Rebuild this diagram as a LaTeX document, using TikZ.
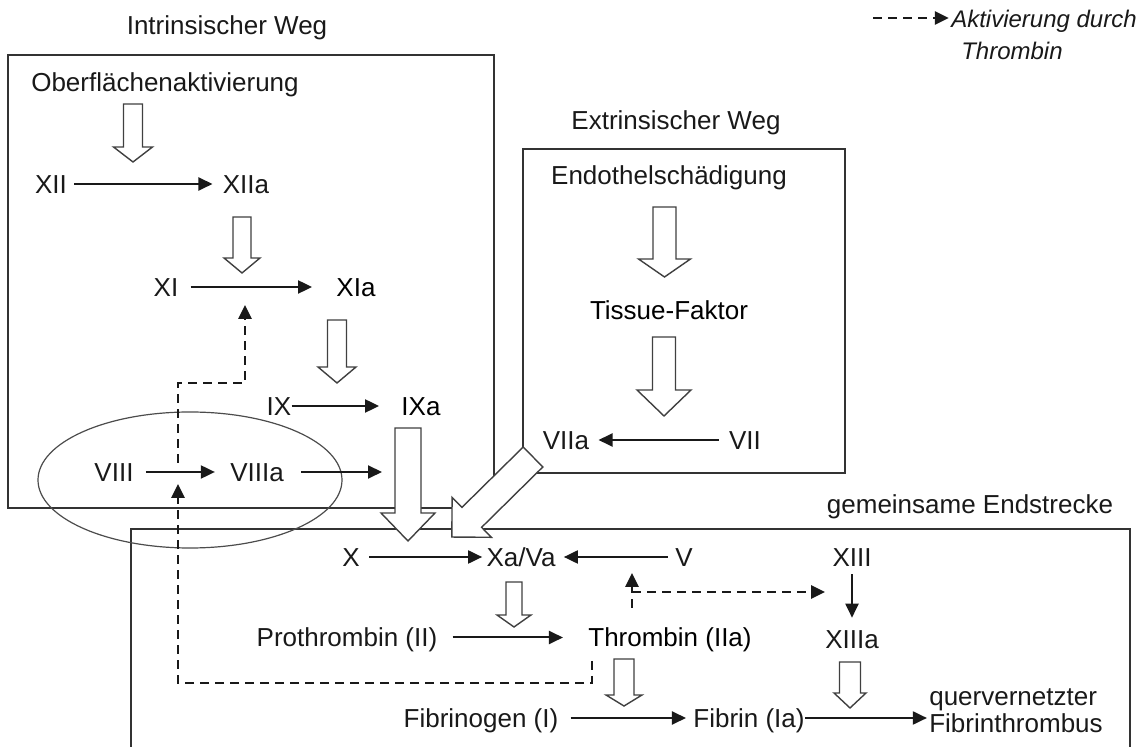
\documentclass[tikz,border=0pt]{standalone}
\usepackage{fontspec}
\setmainfont{Liberation Sans}
\usetikzlibrary{arrows.meta}

\tikzset{
  pics/hollow/.style n args={4}{code={
    \draw[hollowline] (0,-#2/2) -- ({#1-#4},-#2/2) -- ({#1-#4},-#3/2) -- (#1,0)
      -- ({#1-#4},#3/2) -- ({#1-#4},#2/2) -- (0,#2/2) -- cycle;
  }}
}

\begin{document}
\begin{tikzpicture}[
  x=0.5pt, y=-0.5pt,
  font=\fontsize{13}{13.5}\selectfont,
  >={Triangle[length=7pt,width=6.5pt]},
  factor/.style={inner sep=0pt, text height=9.3pt, text depth=0pt, text=black!90},
  keyfactor/.style={factor, text=black},
  conv/.style={->, line width=1pt, draw=black!90},
  act/.style={->, line width=1.3pt, dash pattern=on 4.5pt off 3pt, draw=black!90},
  pathbox/.style={draw=black!80, line width=0.75pt},
  hollowline/.style={draw=black!75, fill=white, line width=0.7pt}
]
\useasboundingbox (0,0) rectangle (1146,747);

% pathway boxes
\draw[pathbox] (8,55) rectangle (494,508);
\draw[pathbox] (523,149) rectangle (845,473);
\draw[pathbox] (131,747) |- (1130,529) -- (1130,747);
\draw[draw=black!70, line width=0.6pt] (190,480) ellipse [x radius=76pt, y radius=34pt];

% hollow conversion arrows
\pic[rotate=-90] at (133,104) {hollow={58}{19}{39}{15}};
\pic[rotate=-90] at (242,217) {hollow={56}{18}{36}{15}};
\pic[rotate=-90] at (337,320) {hollow={63}{19}{38}{16}};
\pic[rotate=-90] at (408,428) {hollow={113}{26}{54}{28}};
\pic[rotate=-90] at (664.5,207) {hollow={70}{23}{52}{18}};
\pic[rotate=-90] at (664,337) {hollow={79}{23}{54}{26}};
\pic[rotate=-90] at (514,582) {hollow={45}{16}{34}{12}};
\pic[rotate=-90] at (624,659) {hollow={47}{20}{36}{11}};
\pic[rotate=-90] at (850,662) {hollow={46}{21}{32}{15}};
\pic[rotate=-135.4] at (533,457) {hollow={114}{28}{56}{28}};

% titles
\node[factor] (intrtitle) at (227,25) {Intrinsischer Weg};
\node[factor] (extrtitle) at (676,120) {Extrinsischer Weg};
\node[factor] (endtitle) at (970,504) {gemeinsame Endstrecke};

% intrinsic pathway
\node[factor] (surface) at (165,82) {Oberflächenaktivierung};
\node[factor] (f12) at (51,184) {XII};
\node[factor] (f12a) at (246,184) {XIIa};
\node[factor] (f11) at (166,287) {XI};
\node[keyfactor] (f11a) at (356,287) {XIa};
\node[factor] (f9) at (279,406) {IX};
\node[keyfactor] (f9a) at (421,406) {IXa};
\node[factor] (f8) at (114,472) {VIII};
\node[factor] (f8a) at (257,472) {VIIIa};
\coordinate (f8target) at (382,472);

% extrinsic pathway
\node[factor] (endo) at (669,175) {Endothelschädigung};
\node[keyfactor] (tissue) at (669,310) {Tissue-Faktor};
\node[factor] (f7a) at (566,440) {VIIa};
\node[factor] (f7) at (745,440) {VII};

% common pathway
\node[factor] (f10) at (351,557) {X};
\node[factor] (f10a) at (521,557) {Xa/Va};
\node[factor] (f5) at (684,557) {V};
\node[factor] (f13) at (852,557) {XIII};
\node[factor] (f2) at (347,637.5) {Prothrombin (II)};
\node[keyfactor] (f2a) at (670,637.5) {Thrombin (IIa)};
\node[factor] (f13a) at (852,639) {XIIIa};
\node[factor] (f1) at (481,718) {Fibrinogen (I)};
\node[factor] (f1a) at (749,718) {Fibrin (Ia)};
\node[factor, align=left] (clot) at (1016,723) {quervernetzter\\Fibrinthrombus};

% legend
\node[factor, align=left, font=\fontsize{12}{16}\selectfont\itshape] (legendtext) at (1044,50)
  {Aktivierung durch\\\hspace*{5pt}Thrombin};
\coordinate (legstart) at (873,18);

% conversions
\draw[conv, shorten <=3.5pt, shorten >=5pt] (f12) -- (f12a);
\draw[conv, shorten <=6pt, shorten >=12pt] (f11) -- (f11a);
\draw[conv, shorten >=11pt] (f9) -- (f9a);
\draw[conv, shorten <=6pt, shorten >=7.5pt] (f8) -- (f8a);
\draw[conv, shorten <=8.5pt] (f8a) -- (f8target);
\draw[conv, shorten <=5pt, shorten >=4.5pt] (f7) -- (f7a);
\draw[conv, shorten <=4.5pt, shorten >=2pt] (f10) -- (f10a);
\draw[conv, shorten <=3.5pt, shorten >=4pt] (f5) -- (f10a);
\draw[conv, shorten <=3.8pt, shorten >=5.8pt] (f13) -- (f13a);
\draw[conv, shorten <=7.5pt, shorten >=12.5pt] (f2) -- (f2a);
\draw[conv, shorten <=6pt, shorten >=3.5pt] (f1) -- (f1a);
\draw[conv, shorten >=1pt] (f1a.east) -- (f1a.east -| clot.west);

% activation by thrombin
\coordinate (thrDash) at (592,661);
\coordinate (f8Hit) at (178,484);
\coordinate (f8Pass) at (178,463);
\coordinate (f11Hit) at (245,305);
\coordinate (thrUp) at (632,608);
\coordinate (f5Hit) at (632,573);
\coordinate (f13Hit) at (825,592);
\draw[act] (thrDash) -- (592,683) -| (f8Hit);
\draw[act] (f8Pass) |- (245,383) -- (f11Hit);
\draw[act] (thrUp) -- (f5Hit);
\draw[act] (thrUp |- f13Hit) -- (f13Hit);
\draw[act, shorten >=1pt] (legstart) -- (legendtext.west |- legstart);
\end{tikzpicture}
\end{document}
